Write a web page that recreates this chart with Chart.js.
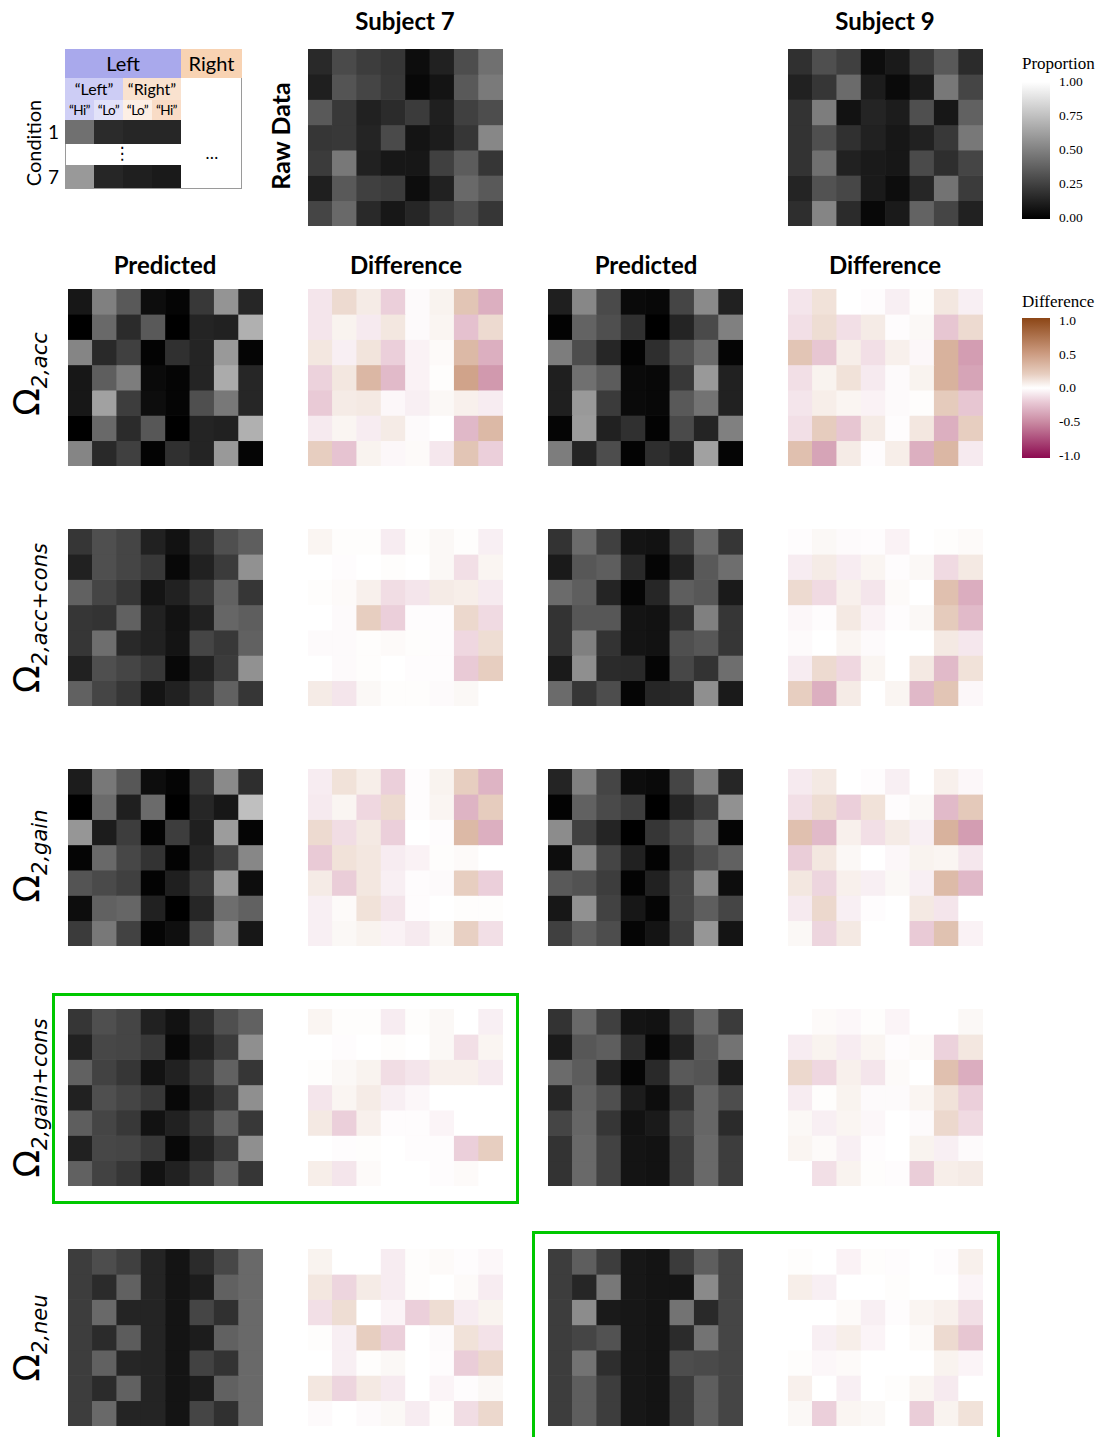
<!DOCTYPE html>
<html>
<head>
<meta charset="utf-8">
<script src="https://cdn.jsdelivr.net/npm/chart.js@4.4.0/dist/chart.umd.min.js"></script>
<style>
  body { margin: 0; width: 1110px; height: 1437px; background: #fff; overflow: hidden; position: relative; font-family: Lato, "DejaVu Sans", sans-serif; }
  .abs { position: absolute; }
  .title { position: absolute; font-weight: bold; font-size: 24px; transform: translate(-50%, -50%); white-space: nowrap; color: #000; }
  .vlab { position: absolute; transform: translate(-50%, -50%) rotate(-90deg); white-space: nowrap; }
  .rowlab { position: absolute; left: 30px; transform: translate(-50%, -50%) rotate(-90deg); white-space: nowrap; font-family: "DejaVu Sans", sans-serif; font-size: 36px; line-height: 1; }
  .rowlab sub { font-size: 21px; font-style: italic; vertical-align: -0.35em; }
  .rowlab sub span { font-style: normal; }
  .heat { position: absolute; width: 195px; height: 177px; }
  .cbtitle { position: absolute; left: 1022px; font-family: "Liberation Serif", serif; font-size: 17px; transform: translateY(-50%); }
  .cbtick { position: absolute; left: 1059px; font-family: "Liberation Serif", serif; font-size: 13.5px; transform: translateY(-50%); }
  .cell { position: absolute; box-sizing: border-box; text-align: center; color: #000; }
  .box { position: absolute; border: 3px solid #00c800; box-sizing: border-box; }
</style>
</head>
<body>
<script>
// ---- categories ----
const columnLabels = ['L "Left" Hi', 'L "Left" Lo', 'L "Right" Lo', 'L "Right" Hi',
                      'R "Left" Hi', 'R "Left" Lo', 'R "Right" Lo', 'R "Right" Hi'];
const conditionLabels = ['1', '2', '3', '4', '5', '6', '7'];
const proportionTicks = ['1.00', '0.75', '0.50', '0.25', '0.00'];
const differenceTicks = ['1.0', '0.5', '0.0', '-0.5', '-1.0'];

// ---- raw data (proportion) ----
const rawS7 = [
  [0.16, 0.29, 0.24, 0.21, 0.05, 0.13, 0.30, 0.44],
  [0.12, 0.33, 0.27, 0.22, 0.03, 0.08, 0.35, 0.48],
  [0.35, 0.22, 0.13, 0.17, 0.23, 0.12, 0.25, 0.30],
  [0.21, 0.22, 0.14, 0.29, 0.08, 0.11, 0.21, 0.53],
  [0.23, 0.47, 0.13, 0.09, 0.09, 0.25, 0.36, 0.21],
  [0.12, 0.35, 0.25, 0.23, 0.05, 0.13, 0.41, 0.35],
  [0.27, 0.41, 0.16, 0.09, 0.15, 0.24, 0.31, 0.21]
];
const rawS9 = [
  [0.19, 0.31, 0.25, 0.05, 0.10, 0.23, 0.35, 0.17],
  [0.13, 0.21, 0.42, 0.11, 0.04, 0.10, 0.47, 0.27],
  [0.20, 0.49, 0.07, 0.14, 0.11, 0.31, 0.09, 0.38],
  [0.20, 0.31, 0.19, 0.13, 0.09, 0.13, 0.22, 0.47],
  [0.20, 0.44, 0.13, 0.10, 0.09, 0.29, 0.18, 0.27],
  [0.14, 0.32, 0.28, 0.10, 0.05, 0.15, 0.45, 0.23],
  [0.18, 0.52, 0.17, 0.03, 0.10, 0.39, 0.27, 0.13]
];

// ---- Omega_2,acc ----
const accPredS7 = [
  [0.09, 0.50, 0.35, 0.05, 0.02, 0.22, 0.58, 0.15],
  [0.00, 0.41, 0.17, 0.35, 0.00, 0.14, 0.13, 0.69],
  [0.52, 0.16, 0.25, 0.01, 0.19, 0.14, 0.60, 0.02],
  [0.09, 0.37, 0.49, 0.04, 0.02, 0.14, 0.67, 0.15],
  [0.09, 0.63, 0.24, 0.05, 0.02, 0.31, 0.47, 0.15],
  [0.00, 0.41, 0.17, 0.34, 0.00, 0.14, 0.13, 0.69],
  [0.52, 0.16, 0.25, 0.01, 0.19, 0.14, 0.60, 0.02]
];
const accDiffS7 = [
  [-0.10, 0.15, 0.08, -0.18, -0.02, 0.05, 0.25, -0.32],
  [-0.10, 0.05, -0.08, 0.10, -0.02, 0.04, -0.24, 0.15],
  [0.10, -0.06, 0.11, -0.18, -0.05, 0.02, 0.32, -0.32],
  [-0.17, 0.10, 0.33, -0.27, -0.05, 0.01, 0.45, -0.42],
  [-0.20, 0.08, 0.09, -0.03, -0.06, 0.03, 0.06, -0.07],
  [-0.08, 0.04, -0.07, 0.08, -0.02, 0.00, -0.28, 0.32],
  [0.20, -0.23, 0.05, -0.03, 0.02, -0.09, 0.25, -0.18]
];
const accPredS9 = [
  [0.12, 0.53, 0.29, 0.04, 0.03, 0.27, 0.54, 0.13],
  [0.01, 0.39, 0.31, 0.19, 0.00, 0.14, 0.29, 0.50],
  [0.49, 0.30, 0.15, 0.01, 0.18, 0.31, 0.42, 0.02],
  [0.12, 0.44, 0.36, 0.04, 0.03, 0.22, 0.60, 0.13],
  [0.12, 0.60, 0.23, 0.04, 0.03, 0.35, 0.45, 0.13],
  [0.02, 0.61, 0.13, 0.19, 0.01, 0.29, 0.14, 0.50],
  [0.49, 0.14, 0.30, 0.01, 0.18, 0.13, 0.63, 0.02]
];
const accDiffS9 = [
  [-0.10, 0.12, 0.00, -0.01, -0.06, 0.01, 0.10, -0.06],
  [-0.12, 0.14, -0.12, 0.08, -0.01, 0.03, -0.22, 0.15],
  [0.25, -0.22, 0.07, -0.12, 0.06, -0.03, 0.36, -0.40],
  [-0.12, 0.05, 0.12, -0.08, -0.02, 0.05, 0.36, -0.37],
  [-0.10, 0.07, 0.04, -0.05, -0.02, 0.01, 0.22, -0.22],
  [-0.12, 0.21, -0.22, 0.08, -0.01, 0.10, -0.32, 0.20],
  [0.28, -0.37, 0.08, -0.01, 0.07, -0.32, 0.33, -0.08]
];

// ---- Omega_2,acc+cons ----
const accConsPredS7 = [
  [0.21, 0.31, 0.27, 0.13, 0.07, 0.18, 0.31, 0.37],
  [0.13, 0.31, 0.27, 0.22, 0.03, 0.13, 0.23, 0.57],
  [0.38, 0.27, 0.21, 0.08, 0.13, 0.21, 0.38, 0.21],
  [0.21, 0.20, 0.38, 0.13, 0.07, 0.13, 0.40, 0.37],
  [0.21, 0.43, 0.16, 0.13, 0.08, 0.27, 0.22, 0.38],
  [0.13, 0.31, 0.27, 0.22, 0.03, 0.13, 0.23, 0.57],
  [0.38, 0.27, 0.21, 0.08, 0.13, 0.21, 0.38, 0.21]
];
const accConsDiffS7 = [
  [0.04, 0.01, 0.01, -0.07, 0.01, 0.03, 0.01, -0.06],
  [0.00, -0.01, 0.00, 0.01, 0.00, 0.03, -0.12, 0.04],
  [0.01, 0.02, 0.06, -0.13, -0.10, 0.08, 0.07, -0.08],
  [0.00, -0.02, 0.20, -0.18, -0.01, -0.01, 0.16, -0.14],
  [-0.02, -0.02, 0.01, 0.02, 0.01, -0.01, -0.15, 0.14],
  [0.00, -0.02, 0.01, 0.00, -0.01, -0.01, -0.20, 0.20],
  [0.08, -0.10, 0.03, 0.01, 0.01, -0.02, 0.03, 0.00]
];
const accConsPredS9 = [
  [0.20, 0.42, 0.25, 0.08, 0.07, 0.24, 0.42, 0.21],
  [0.10, 0.34, 0.37, 0.16, 0.02, 0.13, 0.35, 0.43],
  [0.42, 0.37, 0.14, 0.02, 0.15, 0.37, 0.34, 0.10],
  [0.20, 0.34, 0.34, 0.08, 0.07, 0.19, 0.50, 0.21],
  [0.20, 0.50, 0.20, 0.08, 0.07, 0.31, 0.34, 0.21],
  [0.10, 0.56, 0.17, 0.16, 0.02, 0.28, 0.20, 0.43],
  [0.42, 0.21, 0.30, 0.02, 0.15, 0.16, 0.56, 0.10]
];
const accConsDiffS9 = [
  [-0.01, 0.03, -0.02, -0.01, -0.05, 0.00, 0.01, 0.02],
  [-0.07, 0.08, -0.07, 0.04, -0.01, 0.03, -0.14, 0.09],
  [0.15, -0.14, 0.06, -0.10, 0.02, 0.00, 0.28, -0.33],
  [-0.03, -0.01, 0.09, -0.05, -0.01, 0.03, 0.22, -0.27],
  [-0.02, 0.00, 0.04, -0.02, 0.00, 0.00, 0.09, -0.09],
  [-0.07, 0.15, -0.15, 0.04, 0.00, 0.09, -0.27, 0.12],
  [0.20, -0.32, 0.08, 0.00, 0.04, -0.28, 0.25, -0.03]
];

// ---- Omega_2,gain ----
const gainPredS7 = [
  [0.11, 0.47, 0.34, 0.05, 0.02, 0.21, 0.54, 0.18],
  [0.00, 0.42, 0.12, 0.42, 0.00, 0.15, 0.09, 0.75],
  [0.59, 0.11, 0.24, 0.01, 0.24, 0.12, 0.61, 0.02],
  [0.02, 0.41, 0.28, 0.20, 0.01, 0.15, 0.25, 0.53],
  [0.33, 0.29, 0.25, 0.01, 0.12, 0.22, 0.60, 0.05],
  [0.05, 0.38, 0.40, 0.13, 0.00, 0.15, 0.43, 0.38],
  [0.23, 0.47, 0.26, 0.02, 0.06, 0.29, 0.54, 0.09]
];
const gainDiffS7 = [
  [-0.07, 0.12, 0.07, -0.18, -0.01, 0.05, 0.20, -0.30],
  [-0.08, 0.04, -0.15, 0.15, -0.01, 0.04, -0.30, 0.21],
  [0.15, -0.13, 0.09, -0.18, 0.00, -0.01, 0.32, -0.32],
  [-0.20, 0.12, 0.10, -0.07, -0.05, 0.01, 0.02, 0.00],
  [0.08, -0.19, 0.10, -0.06, -0.01, -0.02, 0.20, -0.18],
  [-0.06, 0.02, 0.12, -0.10, -0.01, 0.00, 0.01, 0.01],
  [-0.06, 0.03, 0.05, -0.05, -0.08, 0.03, 0.19, -0.12]
];
const gainPredS9 = [
  [0.14, 0.50, 0.27, 0.05, 0.04, 0.27, 0.50, 0.15],
  [0.01, 0.38, 0.29, 0.24, 0.00, 0.14, 0.24, 0.57],
  [0.55, 0.25, 0.14, 0.00, 0.21, 0.29, 0.42, 0.02],
  [0.05, 0.53, 0.27, 0.13, 0.01, 0.22, 0.31, 0.38],
  [0.35, 0.32, 0.24, 0.01, 0.13, 0.27, 0.54, 0.05],
  [0.09, 0.57, 0.26, 0.09, 0.02, 0.27, 0.37, 0.27],
  [0.25, 0.37, 0.30, 0.02, 0.08, 0.24, 0.59, 0.08]
];
const gainDiffS9 = [
  [-0.08, 0.09, 0.00, -0.01, -0.06, 0.00, 0.06, -0.03],
  [-0.12, 0.14, -0.18, 0.12, -0.01, 0.03, -0.27, 0.23],
  [0.28, -0.27, 0.06, -0.12, 0.08, -0.06, 0.36, -0.40],
  [-0.19, 0.10, 0.03, 0.00, -0.03, 0.05, 0.04, -0.09],
  [0.10, -0.16, 0.06, -0.06, 0.03, -0.06, 0.31, -0.28],
  [-0.08, 0.16, -0.06, -0.01, 0.00, 0.09, -0.10, 0.00],
  [0.03, -0.16, 0.09, 0.00, 0.00, -0.20, 0.27, -0.05]
];

// ---- Omega_2,gain+cons ----
const gainConsPredS7 = [
  [0.21, 0.31, 0.27, 0.13, 0.07, 0.18, 0.31, 0.38],
  [0.13, 0.28, 0.27, 0.22, 0.03, 0.13, 0.23, 0.56],
  [0.38, 0.26, 0.21, 0.07, 0.13, 0.21, 0.38, 0.21],
  [0.13, 0.31, 0.27, 0.22, 0.03, 0.13, 0.23, 0.56],
  [0.37, 0.27, 0.22, 0.07, 0.13, 0.21, 0.38, 0.22],
  [0.13, 0.28, 0.27, 0.22, 0.03, 0.13, 0.23, 0.56],
  [0.38, 0.26, 0.21, 0.07, 0.13, 0.21, 0.38, 0.21]
];
const gainConsDiffS7 = [
  [0.04, 0.01, 0.01, -0.07, 0.01, 0.03, 0.00, -0.06],
  [0.00, -0.01, 0.00, 0.01, 0.00, 0.03, -0.12, 0.04],
  [0.01, 0.03, 0.05, -0.13, -0.10, 0.06, 0.06, -0.08],
  [-0.10, 0.04, 0.08, -0.06, -0.03, 0.00, 0.00, 0.00],
  [0.09, -0.18, 0.06, -0.01, -0.01, -0.04, 0.00, 0.00],
  [0.00, -0.01, 0.01, 0.00, -0.01, -0.01, -0.18, 0.20],
  [0.07, -0.10, 0.02, 0.00, 0.00, -0.01, 0.02, 0.00]
];
const gainConsPredS9 = [
  [0.20, 0.41, 0.25, 0.08, 0.07, 0.24, 0.41, 0.23],
  [0.10, 0.34, 0.37, 0.17, 0.02, 0.13, 0.35, 0.45],
  [0.42, 0.36, 0.14, 0.02, 0.16, 0.35, 0.33, 0.11],
  [0.15, 0.39, 0.31, 0.11, 0.05, 0.20, 0.40, 0.30],
  [0.27, 0.40, 0.21, 0.07, 0.10, 0.28, 0.40, 0.17],
  [0.20, 0.41, 0.26, 0.08, 0.07, 0.24, 0.41, 0.24],
  [0.20, 0.41, 0.26, 0.08, 0.07, 0.24, 0.41, 0.24]
];
const gainConsDiffS9 = [
  [0.00, 0.02, -0.03, 0.01, -0.04, 0.00, 0.00, 0.03],
  [-0.07, 0.05, -0.07, 0.04, -0.01, 0.02, -0.17, 0.10],
  [0.16, -0.15, 0.06, -0.10, 0.02, 0.00, 0.28, -0.33],
  [-0.07, 0.01, 0.05, -0.02, -0.02, 0.04, 0.12, -0.18],
  [0.03, -0.06, 0.04, -0.03, 0.00, -0.02, 0.16, -0.14],
  [0.04, 0.02, -0.06, -0.01, 0.00, 0.05, -0.06, -0.02],
  [0.00, -0.12, 0.05, 0.01, -0.01, -0.19, 0.07, 0.08]
];

// ---- Omega_2,neu ----
const neuPredS7 = [
  [0.24, 0.30, 0.25, 0.14, 0.08, 0.17, 0.28, 0.41],
  [0.24, 0.17, 0.38, 0.14, 0.08, 0.11, 0.38, 0.41],
  [0.24, 0.41, 0.14, 0.14, 0.08, 0.27, 0.19, 0.41],
  [0.24, 0.17, 0.36, 0.14, 0.08, 0.11, 0.38, 0.41],
  [0.24, 0.38, 0.15, 0.14, 0.08, 0.26, 0.20, 0.41],
  [0.24, 0.17, 0.38, 0.14, 0.08, 0.11, 0.38, 0.41],
  [0.24, 0.41, 0.14, 0.14, 0.08, 0.27, 0.19, 0.41]
];
const neuDiffS7 = [
  [0.05, 0.00, 0.00, -0.07, 0.01, 0.02, -0.01, -0.03],
  [0.10, -0.16, 0.08, -0.07, 0.01, 0.00, 0.02, -0.07],
  [-0.12, 0.14, 0.00, -0.04, -0.18, 0.14, -0.07, 0.05],
  [0.01, -0.06, 0.20, -0.18, 0.00, -0.02, 0.12, -0.11],
  [0.00, -0.06, 0.01, 0.03, 0.00, -0.01, -0.19, 0.16],
  [0.10, -0.16, 0.09, -0.08, 0.00, -0.04, -0.01, 0.03],
  [-0.02, 0.00, -0.02, 0.03, -0.07, 0.01, -0.13, 0.16]
];
const neuPredS9 = [
  [0.24, 0.37, 0.24, 0.09, 0.08, 0.23, 0.37, 0.27],
  [0.24, 0.15, 0.47, 0.09, 0.08, 0.08, 0.54, 0.27],
  [0.24, 0.55, 0.10, 0.09, 0.08, 0.45, 0.16, 0.27],
  [0.24, 0.27, 0.32, 0.09, 0.08, 0.17, 0.45, 0.27],
  [0.24, 0.45, 0.18, 0.09, 0.08, 0.30, 0.29, 0.27],
  [0.24, 0.37, 0.24, 0.09, 0.08, 0.23, 0.37, 0.27],
  [0.24, 0.37, 0.24, 0.09, 0.08, 0.23, 0.37, 0.27]
];
const neuDiffS9 = [
  [0.01, 0.00, -0.05, 0.01, -0.01, 0.00, -0.01, 0.06],
  [0.07, -0.06, 0.00, 0.00, 0.01, 0.00, 0.00, -0.04],
  [0.00, 0.00, 0.02, -0.06, -0.01, 0.04, 0.06, -0.12],
  [0.00, -0.06, 0.07, -0.04, 0.00, 0.02, 0.15, -0.22],
  [0.01, -0.03, 0.02, 0.00, 0.00, 0.00, 0.05, -0.04],
  [0.06, 0.00, -0.06, 0.00, 0.01, 0.04, -0.08, 0.00],
  [0.03, -0.18, 0.04, 0.03, 0.00, -0.19, 0.05, 0.12]
];

// ---- colour maps ----
function grayColor(v) {
  const g = Math.round(Math.max(0, Math.min(1, v)) * 255);
  return `rgb(${g},${g},${g})`;
}

const diffStops = [
  [-1.0, [140, 10, 80]],
  [-0.5, [200, 135, 160]],
  [-0.2, [233, 202, 214]],
  [0.0, [255, 255, 255]],
  [0.2, [231, 206, 192]],
  [0.5, [203, 154, 127]],
  [1.0, [140, 70, 22]]
];

function diffColor(v) {
  v = Math.max(-1, Math.min(1, v));
  for (let i = 1; i < diffStops.length; i++) {
    const [v0, c0] = diffStops[i - 1];
    const [v1, c1] = diffStops[i];
    if (v <= v1) {
      const t = (v - v0) / (v1 - v0);
      const c = c0.map((a, k) => Math.round(a + (c1[k] - a) * t));
      return `rgb(${c[0]},${c[1]},${c[2]})`;
    }
  }
  return 'rgb(140,70,22)';
}

Chart.defaults.animation = false;
</script>

<!-- column / panel titles -->
<div class="title" style="left:405px; top:20px;">Subject 7</div>
<div class="title" style="left:885px; top:20px;">Subject 9</div>
<div class="title" style="left:165px; top:264px;">Predicted</div>
<div class="title" style="left:406px; top:264px;">Difference</div>
<div class="title" style="left:646px; top:264px;">Predicted</div>
<div class="title" style="left:885px; top:264px;">Difference</div>
<div class="vlab" style="left:280px; top:136px; font-weight:bold; font-size:25px;">Raw Data</div>

<!-- layout schematic -->
<div id="schematic"></div>
<div class="vlab" style="left:33px; top:143px; font-size:20px;">Condition</div>

<!-- row labels -->
<div class="rowlab" style="top:374px;">&Omega;<sub>2,acc</sub></div>
<div class="rowlab" style="top:618px;">&Omega;<sub>2,acc<span>+</span>cons</sub></div>
<div class="rowlab" style="top:856px;">&Omega;<sub>2,gain</sub></div>
<div class="rowlab" style="top:1098px;">&Omega;<sub>2,gain<span>+</span>cons</sub></div>
<div class="rowlab" style="top:1338px;">&Omega;<sub>2,neu</sub></div>

<!-- colour bars -->
<div class="cbtitle" style="top:64px;">Proportion</div>
<div id="cbProp" class="abs" style="left:1022px; top:82px; width:28px; height:137px;"></div>
<div class="cbtitle" style="top:302px;">Difference</div>
<div id="cbDiff" class="abs" style="left:1022px; top:318px; width:28px; height:140px;"></div>

<!-- highlight boxes -->
<div class="box" style="left:52px; top:993px; width:467px; height:211px;"></div>
<div class="box" style="left:532px; top:1231px; width:468px; height:230px;"></div>

<div id="panels"></div>

<script>
// schematic of the cell layout
(function () {
  const s = document.getElementById('schematic');
  const cells = [
    // x, y, w, h, background, text, font size
    [65, 49, 116, 29, '#a9a9ec', 'Left', 20],
    [181, 49, 61, 29, '#f8d3b3', 'Right', 20],
    [65, 78, 58, 22, '#cdcdf5', '\u201cLeft\u201d', 16],
    [123, 78, 58, 22, '#f9e2cf', '\u201cRight\u201d', 16],
    [65, 100, 29, 20, '#d0d0f6', '\u201cHi\u201d', 13.5],
    [94, 100, 29, 20, '#e2e2f9', '\u201cLo\u201d', 13.5],
    [123, 100, 29, 20, '#fcefe5', '\u201cLo\u201d', 13.5],
    [152, 100, 29, 20, '#f9dcc6', '\u201cHi\u201d', 13.5]
  ];
  const row1 = [0.44, 0.17, 0.15, 0.15];
  const row7 = [0.60, 0.15, 0.12, 0.10];
  let html = '<div class="abs" style="left:65px; top:49px; width:177px; height:140px; box-sizing:border-box; border:1px solid #9a9a9a;"></div>';
  cells.forEach(([x, y, w, h, bg, t, fs]) => {
    html += `<div class="cell" style="left:${x}px; top:${y}px; width:${w}px; height:${h}px; background:${bg}; font-size:${fs}px; line-height:${h}px; letter-spacing:${fs < 14 ? -0.6 : 0}px; white-space:nowrap; overflow:visible;">${t}</div>`;
  });
  row1.forEach((v, i) => {
    html += `<div class="cell" style="left:${65 + i * 29}px; top:120px; width:29px; height:24px; background:${grayColor(v)};"></div>`;
  });
  row7.forEach((v, i) => {
    html += `<div class="cell" style="left:${65 + i * 29}px; top:165px; width:29px; height:23px; background:${grayColor(v)};"></div>`;
  });
  html += '<div class="cell" style="left:112px; top:140px; width:20px; font-size:17px; line-height:26px;">&#8942;</div>';
  html += '<div class="cell" style="left:198px; top:140px; width:28px; font-size:17px; line-height:26px;">&hellip;</div>';
  html += '<div class="abs" style="left:48px; top:120px; font-size:19px;">1</div>';
  html += '<div class="abs" style="left:48px; top:165px; font-size:19px;">7</div>';
  s.innerHTML = html;
})();

// colour bars
(function () {
  document.getElementById('cbProp').style.background = 'linear-gradient(to bottom, #fff, #000)';
  const stops = diffStops.slice().reverse().map(([v]) => `${diffColor(v)} ${((1 - v) / 2 * 100).toFixed(1)}%`);
  document.getElementById('cbDiff').style.background = `linear-gradient(to bottom, ${stops.join(', ')})`;
  const propY = [82, 116, 150, 184, 218];
  const diffY = [321, 355, 388, 422, 456];
  let html = '';
  proportionTicks.forEach((t, i) => { html += `<div class="cbtick" style="top:${propY[i]}px;">${t}</div>`; });
  differenceTicks.forEach((t, i) => { html += `<div class="cbtick" style="top:${diffY[i]}px;">${t}</div>`; });
  document.body.insertAdjacentHTML('beforeend', html);
})();

// heatmap panels
const panels = [
  // matrix, colour map, left, top
  [rawS7, grayColor, 308, 49],
  [rawS9, grayColor, 788, 49],
  [accPredS7, grayColor, 68, 289], [accDiffS7, diffColor, 308, 289],
  [accPredS9, grayColor, 548, 289], [accDiffS9, diffColor, 788, 289],
  [accConsPredS7, grayColor, 68, 529], [accConsDiffS7, diffColor, 308, 529],
  [accConsPredS9, grayColor, 548, 529], [accConsDiffS9, diffColor, 788, 529],
  [gainPredS7, grayColor, 68, 769], [gainDiffS7, diffColor, 308, 769],
  [gainPredS9, grayColor, 548, 769], [gainDiffS9, diffColor, 788, 769],
  [gainConsPredS7, grayColor, 68, 1009], [gainConsDiffS7, diffColor, 308, 1009],
  [gainConsPredS9, grayColor, 548, 1009], [gainConsDiffS9, diffColor, 788, 1009],
  [neuPredS7, grayColor, 68, 1249], [neuDiffS7, diffColor, 308, 1249],
  [neuPredS9, grayColor, 548, 1249], [neuDiffS9, diffColor, 788, 1249]
];

function drawHeatmap(canvas, matrix, colorFn) {
  return new Chart(canvas.getContext('2d'), {
    type: 'bar',
    data: {
      labels: columnLabels,
      datasets: matrix.map((row, r) => ({
        label: 'Condition ' + conditionLabels[r],
        data: row.map(() => 1),
        backgroundColor: row.map(colorFn),
        borderWidth: 0,
        barPercentage: 1,
        categoryPercentage: 1
      }))
    },
    options: {
      responsive: false,
      animation: false,
      layout: { padding: 0 },
      plugins: { legend: { display: false }, tooltip: { enabled: false } },
      scales: {
        x: { display: false, stacked: true },
        y: { display: false, stacked: true, reverse: true, min: 0, max: conditionLabels.length }
      }
    }
  });
}

const holder = document.getElementById('panels');
panels.forEach(([matrix, colorFn, x, y]) => {
  const wrap = document.createElement('div');
  wrap.className = 'heat';
  wrap.style.left = x + 'px';
  wrap.style.top = y + 'px';
  const canvas = document.createElement('canvas');
  canvas.width = 195;
  canvas.height = 177;
  wrap.appendChild(canvas);
  holder.appendChild(wrap);
  drawHeatmap(canvas, matrix, colorFn);
});
</script>
</body>
</html>
